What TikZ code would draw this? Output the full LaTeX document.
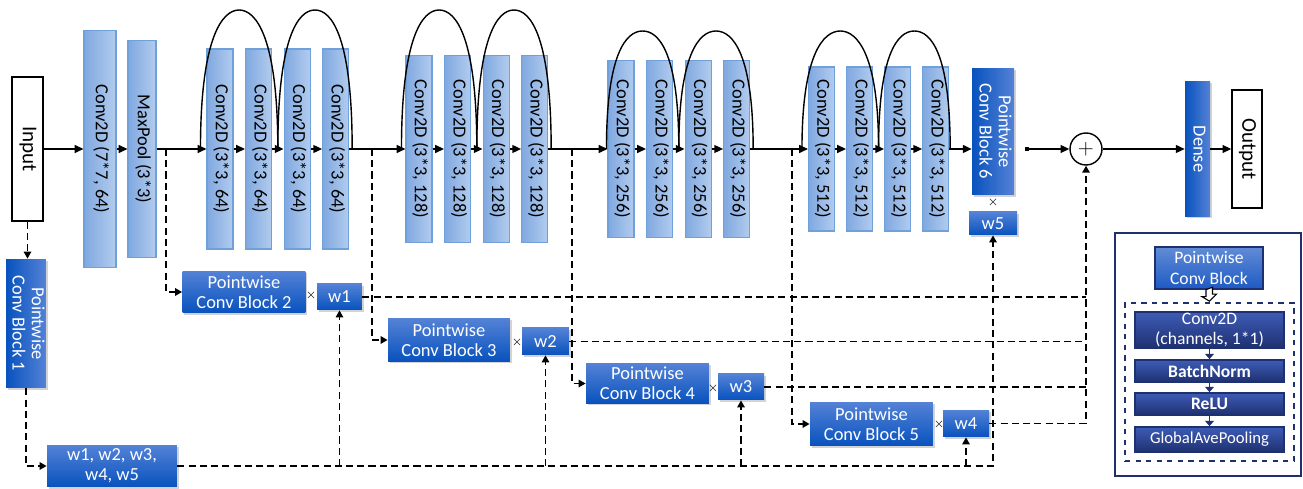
\documentclass[tikz,border=0pt]{standalone}
\usepackage{fontspec}
\setmainfont{Carlito}
\usepackage{graphicx}
\usepackage{tikz}
\usetikzlibrary{
  arrows.meta,
  positioning,
  calc,
  shadows
}
\definecolor{convedge}{RGB}{112,160,218}
\definecolor{convdark}{RGB}{128,168,224}
\definecolor{convlight}{RGB}{178,204,238}
\definecolor{pwdark}{RGB}{8,82,190}
\definecolor{pwlight}{RGB}{84,130,214}
\definecolor{navy}{RGB}{30,48,112}
\definecolor{navylight}{RGB}{62,92,182}
\definecolor{lgblue}{RGB}{30,90,196}
\renewcommand{\arraystretch}{0.95}
\newcommand{\vlabel}[1]{\rotatebox{-90}{\begin{tabular}{@{}c@{}}#1\end{tabular}}}
\newcommand{\resarc}[3]{\draw[resline] (#1) .. controls +(0,-0.8*#3) and +(-17,0) .. ($(#1)!0.5!(#2)+(0,-#3)$) .. controls +(17,0) and +(0,-0.8*#3) .. (#2);}

\begin{document}
\begin{tikzpicture}[x=0.02cm, y=-0.02cm,
  conv/.style={draw=convedge, line width=0.6pt, left color=convdark, right color=convlight, minimum width=0.52cm, inner sep=0pt, font=\fontsize{10.5}{12}\selectfont},
  pwbox/.style={draw=none, text=white, align=center, inner sep=0pt, font=\fontsize{10.5}{11.5}\selectfont, drop shadow={opacity=0.35, shadow xshift=0.9pt, shadow yshift=-0.9pt}},
  pwh/.style={pwbox, top color=pwlight, bottom color=pwdark},
  pwv/.style={pwbox, left color=pwdark, right color=pwlight},
  io/.style={draw, line width=0.8pt, fill=white, inner sep=0pt, font=\fontsize{12}{14}\selectfont},
  mult/.style={inner sep=0pt, font=\scriptsize},
  flow/.style={line width=0.8pt, -{Triangle[length=5pt, width=4.5pt]}},
  resline/.style={line width=0.8pt},
  tapline/.style={line width=1.1pt, dash pattern=on 4pt off 2.4pt},
  tap/.style={tapline, -{Triangle[length=4pt, width=4.2pt]}},
  lgstep/.style={draw=navy, line width=1pt, top color=navylight, bottom color=navy, text=white, minimum width=2.98cm, inner sep=0pt, drop shadow={opacity=0.3, shadow xshift=0.8pt, shadow yshift=-0.8pt}},
  lgarrow/.style={navy, line width=0.8pt, -{Triangle[length=3pt, width=5pt]}}
]
  \useasboundingbox (0,0) rectangle (1303,489);

  % main path
  \node[io, minimum width=0.62cm, minimum height=2.88cm] (in) at (27.5,149) {\vlabel{Input}};
  \node[conv, minimum width=0.64cm, minimum height=4.74cm] (c77) at (100,149) {\vlabel{Conv2D (7*7, 64)}};
  \node[conv, minimum width=0.56cm, minimum height=4.34cm] (pool) at (142,149) {\vlabel{MaxPool (3*3)}};

  \node[conv, minimum height=4cm] (b11) at (220,149) {\vlabel{Conv2D (3*3, 64)}};
  \node[conv, minimum height=4cm, right=0.23cm of b11] (b12) {\vlabel{Conv2D (3*3, 64)}};
  \node[conv, minimum height=4cm, right=0.23cm of b12] (b13) {\vlabel{Conv2D (3*3, 64)}};
  \node[conv, minimum height=4cm, right=0.23cm of b13] (b14) {\vlabel{Conv2D (3*3, 64)}};

  \node[conv, minimum height=3.74cm] (b21) at (419,149) {\vlabel{Conv2D (3*3, 128)}};
  \node[conv, minimum height=3.74cm, right=0.23cm of b21] (b22) {\vlabel{Conv2D (3*3, 128)}};
  \node[conv, minimum height=3.74cm, right=0.23cm of b22] (b23) {\vlabel{Conv2D (3*3, 128)}};
  \node[conv, minimum height=3.74cm, right=0.23cm of b23] (b24) {\vlabel{Conv2D (3*3, 128)}};

  \node[conv, minimum height=3.54cm] (b31) at (621,149) {\vlabel{Conv2D (3*3, 256)}};
  \node[conv, minimum height=3.54cm, right=0.23cm of b31] (b32) {\vlabel{Conv2D (3*3, 256)}};
  \node[conv, minimum height=3.54cm, right=0.23cm of b32] (b33) {\vlabel{Conv2D (3*3, 256)}};
  \node[conv, minimum height=3.54cm, right=0.23cm of b33] (b34) {\vlabel{Conv2D (3*3, 256)}};

  \node[conv, minimum height=3.28cm] (b41) at (821.5,149) {\vlabel{Conv2D (3*3, 512)}};
  \node[conv, minimum height=3.28cm, right=0.22cm of b41] (b42) {\vlabel{Conv2D (3*3, 512)}};
  \node[conv, minimum height=3.28cm, right=0.22cm of b42] (b43) {\vlabel{Conv2D (3*3, 512)}};
  \node[conv, minimum height=3.28cm, right=0.22cm of b43] (b44) {\vlabel{Conv2D (3*3, 512)}};

  \node[pwv, minimum width=0.84cm, minimum height=2.54cm] (pw6) at (993,131.5) {\vlabel{Pointwise\\Conv Block 6}};
  \node[mult] (x6) at (993,202) {$\times$};
  \node[pwh, minimum width=0.96cm, minimum height=0.46cm] (w5) at (993,223.5) {w5};

  \node[draw, circle, line width=0.8pt, fill=white, minimum size=0.64cm, inner sep=0pt, font=\fontsize{13}{13}\selectfont] (plus) at (1086,149) {$+$};
  \node[pwv, minimum width=0.5cm, minimum height=2.7cm] (dense) at (1197.5,149) {\vlabel{Dense}};
  \node[io, minimum width=0.6cm, minimum height=2.36cm] (out) at (1247,149) {\vlabel{Output}};

  % pointwise branches
  \node[pwv, minimum width=0.8cm, minimum height=2.58cm] (pw1) at (26,323.5) {\vlabel{Pointwise\\Conv Block 1}};
  \node[pwh, minimum width=2.6cm, minimum height=0.84cm] (wall) at (112,466) {w1, w2, w3,\\w4, w5};

  \node[pwh, minimum width=2.46cm, minimum height=0.84cm] (pw2) at (244,292) {Pointwise\\Conv Block 2};
  \node[mult] (x2) at (311,295) {$\times$};
  \node[pwh, minimum width=0.9cm, minimum height=0.52cm] (w1) at (339.5,297) {w1};

  \node[pwh, minimum width=2.44cm, minimum height=0.86cm] (pw3) at (449,340) {Pointwise\\Conv Block 3};
  \node[mult] (x3) at (517,342) {$\times$};
  \node[pwh, minimum width=0.94cm, minimum height=0.54cm] (w2) at (545.5,341.5) {w2};

  \node[pwh, minimum width=2.46cm, minimum height=0.8cm] (pw4) at (647.5,383.5) {Pointwise\\Conv Block 4};
  \node[mult] (x4) at (713,388) {$\times$};
  \node[pwh, minimum width=0.92cm, minimum height=0.52cm] (w3) at (741,387) {w3};

  \node[pwh, minimum width=2.46cm, minimum height=0.88cm] (pw5) at (871.5,424) {Pointwise\\Conv Block 5};
  \node[mult] (x5) at (939,424) {$\times$};
  \node[pwh, minimum width=0.92cm, minimum height=0.54cm] (w4) at (966,423.5) {w4};

  \coordinate (t2) at (166,149);
  \coordinate (t3) at (372,149);
  \coordinate (t4) at (572,149);
  \coordinate (t5) at (792,149);
  \coordinate (p6) at (1025,149);

  % main arrows
  \foreach \a/\b in {in/c77, c77/pool, pool/b11, b11/b12, b12/b13, b13/b14, b14/b21, b21/b22, b22/b23, b23/b24,
                     b24/b31, b31/b32, b32/b33, b33/b34, b34/b41, b41/b42, b42/b43, b43/b44, plus/dense, dense/out}
    \draw[flow] (\a) -- (\b);
  \draw[flow] (b44) -- (b44 -| pw6.west);
  \draw[flow, {Square[length=2.5pt, width=2.2pt]}-{Triangle[length=5pt, width=4.5pt]}] (p6) -- (plus);

  % residual arcs
  \coordinate (s1) at ([xshift=-0.12cm]b11.west);
  \coordinate (m1) at ($(b12.east)!0.5!(b13.west)$);
  \coordinate (e1) at ([xshift=0.06cm]b14.east);
  \coordinate (s2) at ([xshift=-0.08cm]b21.west);
  \coordinate (m2) at ($(b22.east)!0.5!(b23.west)$);
  \coordinate (e2) at ([xshift=0.06cm]b24.east);
  \coordinate (s3) at ([xshift=-0.02cm]b31.west);
  \coordinate (m3) at ($(b32.east)!0.5!(b33.west)$);
  \coordinate (e3) at ([xshift=0.06cm]b34.east);
  \coordinate (s4) at ([xshift=-0.12cm]b41.west);
  \coordinate (m4) at ($(b42.east)!0.5!(b43.west)$);
  \coordinate (e4) at ([xshift=0.02cm]b44.east);
  \resarc{s1}{m1}{139} \resarc{m1}{e1}{139}
  \resarc{s2}{m2}{139} \resarc{m2}{e2}{139}
  \resarc{s3}{m3}{118} \resarc{m3}{e3}{118}
  \resarc{s4}{m4}{118} \resarc{m4}{e4}{118}

  % weight paths
  \draw[tap] (in.south) -- (in.south |- pw1.north);
  \draw[tap] (pw1.south) |- (wall.west);
  \draw[tap] (wall.east) -| (w5.south);
  \foreach \w in {w1, w2, w3, w4}
    \draw[tap] (wall.east -| \w.south) -- (\w.south);
  \foreach \t/\p in {t2/pw2, t3/pw3, t4/pw4, t5/pw5}
    \draw[tap] (\t) |- (\p.west);
  \foreach \w in {w1, w2, w3}
    \draw[tapline] (\w.east) -- (\w.east -| plus.south);
  \draw[tap] (w4.east) -| (plus.south);

  % legend
  \draw[navy, line width=1.2pt] (1115,233) rectangle (1301,476);
  \node[draw=navy, line width=0.8pt, top color=lgblue!70!white, bottom color=lgblue, text=white, align=center, minimum width=2.16cm, minimum height=0.84cm, inner sep=0pt, font=\fontsize{10}{11.5}\selectfont, drop shadow={opacity=0.3, shadow xshift=0.8pt, shadow yshift=-0.8pt}] (lpw) at (1209,268) {Pointwise\\Conv Block};
  \node[draw=navy, dashed, line width=0.9pt, minimum width=3.38cm, minimum height=3.16cm] (lgrp) at (1209.5,382) {};
  \draw[line width=0.6pt, fill=white, line join=miter] ([xshift=-0.06cm]lpw.south) -- ++(0,7) -- ++(-4,0)
    -- ([yshift=0.02cm]lgrp.north) -- ++(7,-7) -- ++(-4,0) -- ++(0,-7) -- cycle;
  \node[lgstep, minimum height=0.72cm, align=center, font=\fontsize{10}{11.5}\selectfont] (lc) at (1209.5,330) {Conv2D\\(channels, 1*1)};
  \node[lgstep, minimum height=0.44cm, font=\fontsize{10}{11}\selectfont\bfseries] (lbn) at (1209.5,371) {BatchNorm};
  \node[lgstep, minimum height=0.44cm, font=\fontsize{10}{11}\selectfont\bfseries] (lrelu) at (1209.5,404) {ReLU};
  \node[lgstep, minimum height=0.5cm, font=\fontsize{9.5}{11}\selectfont] (lgap) at (1209.5,439.5) {GlobalAvePooling};
  \foreach \a/\b in {lc/lbn, lbn/lrelu, lrelu/lgap}
    \draw[lgarrow] (\a) -- (\b);
\end{tikzpicture}
\end{document}
